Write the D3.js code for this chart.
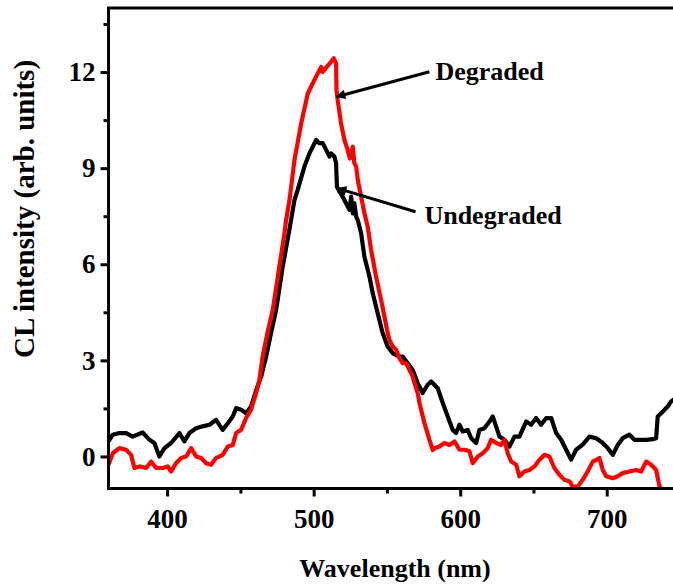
<!DOCTYPE html>
<html>
<head>
<meta charset="utf-8">
<script src="https://cdn.jsdelivr.net/npm/d3@7"></script>
<style>
  html, body { margin: 0; padding: 0; background: #fff; }
  svg { display: block; }
  text { font-family: "Liberation Serif", "Times New Roman", serif; font-weight: bold; fill: #000; }
</style>
</head>
<body>
<svg id="chart" width="673" height="586"></svg>
<script>
// Cathodoluminescence spectra: [wavelength (nm), intensity (arb. units)]
const undegraded = [
  [360.0,0.47],[362.9,0.68],[367.4,0.73],[372.0,0.73],[376.5,0.62],[383.3,0.75],
  [387.9,0.52],[391.3,0.42],[394.7,0.00],[398.2,0.26],[402.7,0.42],[408.4,0.73],
  [411.8,0.47],[415.2,0.73],[419.8,0.88],[424.3,0.94],[428.9,0.99],[433.4,1.14],
  [437.9,0.83],[441.4,1.04],[444.8,1.25],[447.1,1.51],[450.5,1.46],[453.9,1.35],
  [457.3,1.56],[460.7,2.05],[464.2,2.50],[467.6,3.12],[470.9,3.85],[474.4,4.58],
  [478.9,5.93],[483.5,7.10],[486.9,8.00],[489.1,8.32],[493.7,9.05],[497.1,9.46],
  [499.4,9.67],[501.7,9.88],[503.9,9.78],[506.2,9.78],[508.5,9.57],[510.8,9.36],
  [511.9,9.46],[514.2,9.36],[515.3,9.15],[515.9,8.42],[517.6,8.27],[519.8,8.11],
  [522.2,7.90],[524.4,7.70],[525.6,8.11],[526.7,7.59],[527.8,7.90],[529.0,7.49],
  [530.1,7.38],[532.4,6.97],[534.6,6.24],[538.1,5.61],[540.3,5.10],[543.7,4.47],
  [547.1,3.85],[550.5,3.43],[554.0,3.22],[558.5,3.12],[560.8,3.12],[564.2,2.91],
  [567.6,2.70],[571.0,2.29],[574.4,1.98],[577.8,2.24],[580.2,2.34],[584.7,2.13],
  [588.1,1.67],[591.5,1.25],[594.9,0.83],[597.2,0.73],[599.5,0.99],[601.7,0.78],
  [605.1,0.83],[607.5,0.57],[610.9,0.42],[613.1,0.83],[616.5,0.88],[620.0,1.09],
  [622.2,1.25],[624.5,0.94],[626.8,0.62],[630.2,0.52],[633.6,0.31],[637.0,0.62],
  [640.4,0.62],[645.0,1.09],[648.4,0.99],[651.8,1.20],[655.2,0.99],[658.7,1.20],
  [662.1,1.20],[665.5,0.73],[668.9,0.52],[672.3,0.21],[675.7,-0.10],[679.1,0.21],
  [683.6,0.37],[688.2,0.62],[692.8,0.57],[697.3,0.42],[700.7,0.26],[704.1,0.05],
  [707.5,0.36],[710.9,0.57],[715.5,0.68],[718.9,0.52],[722.3,0.52],[726.9,0.52],
  [731.4,0.54],[733.7,0.57],[734.8,1.25],[738.2,1.40],[741.6,1.56],[744.0,1.72],
  [746.5,1.80]
];

const degraded = [
  [360.0,-0.26],[362.9,0.10],[367.4,0.26],[372.0,0.21],[375.4,0.05],[377.7,-0.36],
  [381.1,-0.31],[385.7,-0.36],[389.1,-0.16],[392.5,-0.36],[397.0,-0.36],[400.4,-0.31],
  [402.7,-0.47],[406.1,-0.21],[409.6,-0.05],[413.0,0.00],[416.4,0.26],[419.8,0.00],
  [423.2,-0.05],[426.6,-0.21],[430.0,-0.26],[433.4,-0.05],[437.9,0.05],[441.4,0.31],
  [444.8,0.36],[447.1,0.73],[450.5,0.83],[453.9,1.20],[457.3,1.46],[460.7,1.98],
  [463.0,2.39],[465.2,3.12],[468.4,3.85],[472.1,4.58],[476.6,5.93],[480.1,6.97],
  [481.2,7.38],[483.5,8.00],[486.9,9.25],[491.5,10.40],[496.0,11.33],[499.4,11.65],
  [502.8,11.96],[505.1,12.16],[506.2,12.00],[508.9,12.16],[511.9,12.32],[513.7,12.43],
  [515.3,12.27],[515.6,11.44],[516.4,11.13],[518.7,10.40],[521.0,9.88],[523.2,9.57],
  [524.7,9.30],[526.7,9.67],[527.8,9.15],[529.0,9.05],[530.1,8.63],[532.4,8.11],
  [534.6,7.60],[536.9,7.17],[539.2,6.45],[542.6,5.61],[546.0,4.89],[548.3,4.37],
  [550.5,3.85],[551.7,3.64],[554.0,3.43],[556.3,3.33],[558.5,3.07],[560.8,2.91],
  [563.1,2.91],[565.4,2.70],[567.6,2.50],[568.8,2.29],[571.0,1.98],[572.2,1.67],
  [575.6,1.04],[579.0,0.52],[581.3,0.20],[582.4,0.26],[585.8,0.31],[589.2,0.42],
  [592.7,0.36],[596.1,0.47],[599.5,0.21],[602.9,0.21],[606.3,0.16],[608.6,-0.21],
  [612.0,0.00],[615.4,0.10],[618.8,0.26],[621.1,0.52],[624.5,0.42],[627.9,0.36],
  [630.2,0.52],[632.4,0.10],[634.8,-0.16],[638.2,-0.26],[640.4,-0.62],[643.8,-0.47],
  [647.3,-0.42],[650.7,-0.31],[654.1,-0.10],[657.5,0.05],[660.9,0.00],[664.3,-0.36],
  [667.7,-0.57],[671.1,-0.73],[674.6,-0.78],[676.8,-0.94],[680.2,-0.94],[683.6,-0.73],
  [687.0,-0.47],[690.5,-0.16],[695.0,-0.05],[697.3,-0.42],[699.6,-0.62],[704.1,-0.68],
  [707.5,-0.62],[710.9,-0.52],[715.5,-0.47],[720.1,-0.42],[723.5,-0.47],[726.9,-0.16],
  [730.3,-0.26],[733.7,-0.42],[736.0,-0.94],[738.2,-1.04],[740.5,-1.60],[743.0,-2.00]
];

const xMajorTicks = [400, 500, 600, 700];
const xMinorTicks = [450, 550, 650];
const yMajorTicks = [0, 3, 6, 9, 12];
const yMinorTicks = [1.5, 4.5, 7.5, 10.5, 13.5];

// Arrow annotations: label, label anchor, arrow tail, arrow tip (data units)
const labels = [
  { text: "Degraded",   at: [583.1, 11.75], from: [579.0, 12.01], to: [515.7, 11.23] },
  { text: "Undegraded", at: [575.6, 7.25],  from: [569.5, 7.64],  to: [516.4, 8.37] }
];

const xTitle = "Wavelength (nm)";
const yTitle = "CL intensity (arb. units)";

const mLeft = 108.5, mTop = 8, mBottom = 488.5, mRight = 680;

const x = d3.scaleLinear().domain([360, 750]).range([mLeft, mRight]);
const y = d3.scaleLinear().domain([-1, 14]).range([mBottom, mTop]);

const svg = d3.select("#chart");
const defs = svg.append("defs");

defs.append("clipPath").attr("id", "plotClip")
  .append("rect").attr("x", mLeft).attr("y", mTop)
  .attr("width", mRight - mLeft).attr("height", mBottom - mTop);

defs.append("marker")
  .attr("id", "arrowHead").attr("viewBox", "0 0 10 10")
  .attr("refX", 9).attr("refY", 5)
  .attr("markerWidth", 4.5).attr("markerHeight", 3.2)
  .attr("markerUnits", "strokeWidth")
  .attr("orient", "auto")
  .append("path").attr("d", "M0,0 L10,5 L0,10 Z").attr("fill", "#000");

// Spectra
const line = d3.line().x(d => x(d[0])).y(d => y(d[1]));
const plot = svg.append("g").attr("clip-path", "url(#plotClip)");
plot.append("path").datum(undegraded).attr("d", line)
  .attr("fill", "none").attr("stroke", "#000").attr("stroke-width", 4.2)
  .attr("stroke-linejoin", "round");
plot.append("path").datum(degraded).attr("d", line)
  .attr("fill", "none").attr("stroke", "#ff0000").attr("stroke-width", 4.2)
  .attr("stroke-linejoin", "round");

// Axes
const tickFont = 27, labelFont = 26;
const xAxis = svg.append("g").attr("transform", `translate(0,${mBottom})`)
  .call(d3.axisBottom(x).tickValues(xMajorTicks).tickSize(8).tickPadding(12).tickFormat(d3.format("d")));
const xMinor = svg.append("g").attr("transform", `translate(0,${mBottom})`)
  .call(d3.axisBottom(x).tickValues(xMinorTicks).tickSize(5).tickFormat(""));
const yAxis = svg.append("g").attr("transform", `translate(${mLeft},0)`)
  .call(d3.axisLeft(y).tickValues(yMajorTicks).tickSize(8).tickPadding(5).tickFormat(d3.format("d")));
const yMinor = svg.append("g").attr("transform", `translate(${mLeft},0)`)
  .call(d3.axisLeft(y).tickValues(yMinorTicks).tickSize(5).tickFormat(""));

[xAxis, xMinor, yAxis, yMinor].forEach(g => {
  g.select(".domain").remove();
  g.selectAll(".tick line").attr("stroke", "#000").attr("stroke-width", 3);
  g.selectAll(".tick text")
    .style("font-family", '"Liberation Serif", "Times New Roman", serif')
    .style("font-weight", "bold").style("font-size", tickFont + "px").attr("fill", "#000");
});

// Frame: left, bottom and top edges
svg.append("path")
  .attr("d", `M${mRight},${mTop} H${mLeft} V${mBottom} H${mRight}`)
  .attr("fill", "none").attr("stroke", "#000").attr("stroke-width", 3);

// Axis titles
svg.append("text")
  .attr("x", 395).attr("y", 577)
  .attr("text-anchor", "middle")
  .style("font-size", labelFont + "px")
  .text(xTitle);

svg.append("text")
  .attr("transform", `translate(34,209) rotate(-90)`)
  .attr("text-anchor", "middle")
  .style("font-size", "29px")
  .text(yTitle);

// Annotations
labels.forEach(l => {
  svg.append("line")
    .attr("x1", x(l.from[0])).attr("y1", y(l.from[1]))
    .attr("x2", x(l.to[0])).attr("y2", y(l.to[1]))
    .attr("stroke", "#000").attr("stroke-width", 3)
    .attr("marker-end", "url(#arrowHead)");
  svg.append("text")
    .attr("x", x(l.at[0])).attr("y", y(l.at[1]))
    .style("font-size", labelFont + "px")
    .text(l.text);
});
</script>
</body>
</html>
